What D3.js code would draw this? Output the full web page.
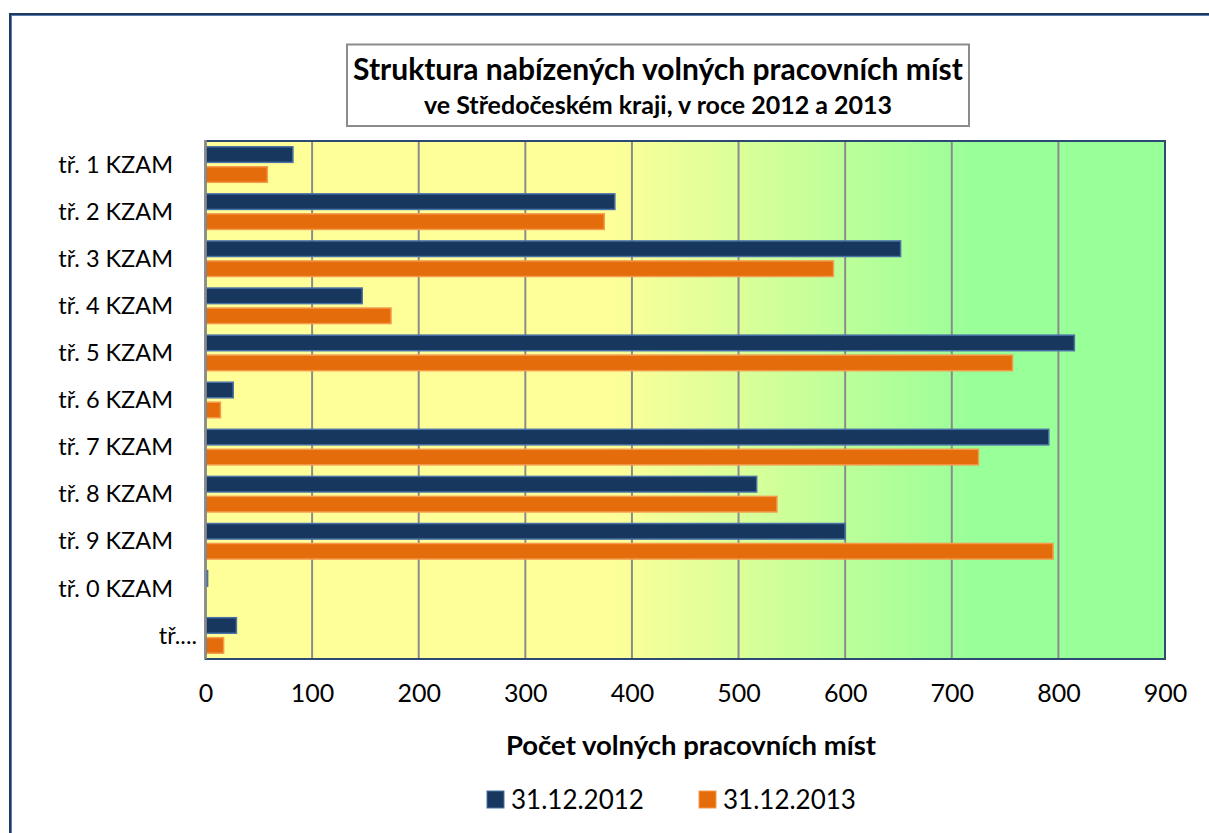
<!DOCTYPE html>
<html><head><meta charset="utf-8">
<script src="https://cdn.jsdelivr.net/npm/d3@7"></script>
<style>body{margin:0;background:#fff}svg{display:block}text{font-family:Lato,"Noto Sans",sans-serif}</style>
</head><body><svg id="c" width="1209" height="833"></svg>
<script>
const categories = ["tř. 1 KZAM","tř. 2 KZAM","tř. 3 KZAM","tř. 4 KZAM","tř. 5 KZAM","tř. 6 KZAM","tř. 7 KZAM","tř. 8 KZAM","tř. 9 KZAM","tř. 0 KZAM","tř...."];
const series2012 = [82, 384, 652, 147, 815, 26, 791, 517, 600, 2, 29];
const series2013 = [58, 374, 589, 174, 757, 14, 725, 536, 795, 0, 17];
const seriesNames = ["31.12.2012","31.12.2013"];
const xTicks = [0,100,200,300,400,500,600,700,800,900];
const titleLines = ["Struktura nabízených volných pracovních míst","ve Středočeském kraji, v roce 2012 a 2013"];
const axisTitle = "Počet volných pracovních míst";

const svg = d3.select("#c");
const W = 1209, H = 833;
const P = {l:205.5, r:1165, t:141, b:659};

// outer frame
svg.append("rect").attr("x",10).attr("y",14).attr("width",W+20).attr("height",H+20)
  .attr("fill","none").attr("stroke","#1F3A60").attr("stroke-width",2);
svg.append("rect").attr("x",11.5).attr("y",15.5).attr("width",W+20).attr("height",H+20)
  .attr("fill","none").attr("stroke","#5B7BA8").attr("stroke-width",1);

// gradient
const defs = svg.append("defs");
const g = defs.append("linearGradient").attr("id","bg").attr("x1","0").attr("x2","1").attr("y1","0").attr("y2","0");
g.append("stop").attr("offset","0.42").attr("stop-color","#FFFF99");
g.append("stop").attr("offset","0.80").attr("stop-color","#99FF99");

const x = d3.scaleLinear().domain([0,900]).range([P.l,P.r]);
const y = d3.scaleBand().domain(categories).range([P.t,P.b]).paddingInner(0.245).paddingOuter(0.1225);
const ys = d3.scaleBand().domain(seriesNames).range([0,y.bandwidth()]).paddingInner(0.22);

svg.append("rect").attr("x",P.l).attr("y",P.t).attr("width",P.r-P.l).attr("height",P.b-P.t).attr("fill","url(#bg)");

// gridlines
svg.append("g").selectAll("line").data(xTicks.slice(1,-1)).join("line")
  .attr("x1",d=>x(d)).attr("x2",d=>x(d)).attr("y1",P.t).attr("y2",P.b)
  .attr("stroke","#8C8C8C").attr("stroke-width",2);

// bars
const data = categories.map((c,i)=>({c, v:[series2012[i],series2013[i]]}));
const colors = ["#17375E","#E46C0A"], strokes = ["#4A72A8","#F39A4C"];
const grp = svg.append("g").selectAll("g").data(data).join("g").attr("transform",d=>`translate(0,${y(d.c)})`);
grp.selectAll("rect").data(d=>d.v.map((v,k)=>({v,k}))).join("rect")
  .attr("x",x(0)).attr("y",d=>ys(seriesNames[d.k]))
  .attr("width",d=>Math.max(0,x(d.v)-x(0))).attr("height",ys.bandwidth())
  .attr("fill",d=>colors[d.k]).attr("stroke",d=>d.v>0?strokes[d.k]:"none").attr("stroke-width",1.5);

// plot border
svg.append("rect").attr("x",P.l).attr("y",P.t).attr("width",P.r-P.l).attr("height",P.b-P.t)
  .attr("fill","none").attr("stroke","#2C4A73").attr("stroke-width",2);
svg.append("line").attr("x1",P.l).attr("x2",P.l).attr("y1",P.t-1).attr("y2",P.b)
  .attr("stroke","#8C8C8C").attr("stroke-width",2.5);

// x axis
const xa = svg.append("g").attr("transform",`translate(0,${P.b})`)
  .call(d3.axisBottom(x).tickValues(xTicks).tickSize(0).tickPadding(25));
xa.select(".domain").remove();
xa.selectAll("text").attr("font-size",25).attr("fill","#000").attr("font-family","Lato");

// y labels
svg.append("g").selectAll("text").data(categories).join("text")
  .attr("x",(d,i)=>i===categories.length-1?197:173)
  .attr("y",d=>y(d)+y.bandwidth()/2).attr("dy","0.35em")
  .attr("text-anchor","end").attr("font-size",23.5).attr("fill","#000").text(d=>d);

// title
svg.append("rect").attr("x",347).attr("y",44.5).attr("width",622).attr("height",81.5)
  .attr("fill","#fff").attr("stroke","#8C8C8C").attr("stroke-width",2);
svg.append("text").attr("x",658).attr("y",80).attr("text-anchor","middle").attr("font-weight","bold").attr("font-size",30).text(titleLines[0]);
svg.append("text").attr("x",658).attr("y",114).attr("text-anchor","middle").attr("font-weight","bold").attr("font-size",25).text(titleLines[1]);

// axis title
svg.append("text").attr("x",691).attr("y",755).attr("text-anchor","middle").attr("font-weight","bold").attr("font-size",27.5).text(axisTitle);

// legend
const lx = [487, 699];
const lg = svg.append("g").selectAll("g").data(seriesNames).join("g").attr("transform",(d,i)=>`translate(${lx[i]},791)`);
lg.append("rect").attr("width",17).attr("height",17).attr("fill",(d,i)=>colors[i]).attr("stroke",(d,i)=>strokes[i]).attr("stroke-width",1);
lg.append("text").attr("x",24).attr("y",9).attr("dy","0.35em").attr("font-size",26).text(d=>d);
</script></body></html>
